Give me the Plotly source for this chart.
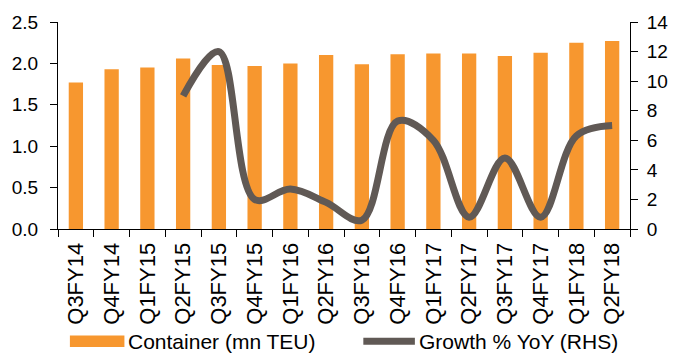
import plotly.graph_objects as go

quarters = ["Q3FY14", "Q4FY14", "Q1FY15", "Q2FY15", "Q3FY15", "Q4FY15", "Q1FY16", "Q2FY16",
            "Q3FY16", "Q4FY16", "Q1FY17", "Q2FY17", "Q3FY17", "Q4FY17", "Q1FY18", "Q2FY18"]
container_mn_teu = [1.77, 1.93, 1.95, 2.06, 1.98, 1.97, 2.00, 2.10,
                    1.99, 2.11, 2.12, 2.12, 2.09, 2.13, 2.25, 2.27]
growth_yoy = [None, None, None, 9.0, 12.0, 2.0, 2.7, 1.8,
              0.6, 7.3, 6.0, 0.8, 4.8, 0.8, 6.3, 7.0]

y_ticks = [0.0, 0.5, 1.0, 1.5, 2.0, 2.5]
y2_ticks = [0, 2, 4, 6, 8, 10, 12, 14]

BAR_COLOR = "#F7972F"
LINE_COLOR = "#605955"
FONT = "Liberation Sans, Arial, sans-serif"

fig = go.Figure()
fig.add_trace(go.Bar(
    x=quarters, y=container_mn_teu, name="Container (mn TEU)",
    marker=dict(color=BAR_COLOR, line=dict(width=0)), yaxis="y",
))
fig.add_trace(go.Scatter(
    x=quarters, y=growth_yoy, name="Growth % YoY (RHS)", mode="lines",
    line=dict(color=LINE_COLOR, width=7, shape="spline", smoothing=1.0),
    yaxis="y2", connectgaps=False,
))

axis_common = dict(
    showgrid=False, zeroline=False, showline=True, linecolor="black", linewidth=1,
    ticks="outside", ticklen=7, tickcolor="black", tickwidth=1,
    tickfont=dict(family=FONT, size=19, color="black"),
)

fig.update_layout(
    width=680, height=358,
    margin=dict(l=58, r=45, t=15, b=129),
    paper_bgcolor="white", plot_bgcolor="white",
    bargap=0.6, showlegend=False,
    font=dict(family=FONT, color="black"),
    xaxis=dict(
        type="category", tickson="boundaries", tickangle=-90,
        showgrid=False, zeroline=False, showline=True, linecolor="black", linewidth=1,
        ticks="outside", ticklen=7, tickcolor="black", ticklabelstandoff=4,
        tickfont=dict(family=FONT, size=22, color="black"),
    ),
    yaxis=dict(range=[0, 2.5], tickvals=y_ticks, tickformat=".1f",
               ticklabelstandoff=8, **axis_common),
    yaxis2=dict(range=[0, 14], tickvals=y2_ticks, overlaying="y", side="right",
                ticklabelstandoff=5, **axis_common),
)

# Legend drawn below the axis labels
def px_x(px):
    return (px - 58) / 577.0

def px_y(py):
    return (229 - py) / 214.0

fig.add_shape(type="rect", xref="paper", yref="paper",
              x0=px_x(70), x1=px_x(125), y0=px_y(351), y1=px_y(339),
              fillcolor=BAR_COLOR, line=dict(width=0))
fig.add_shape(type="line", xref="paper", yref="paper",
              x0=px_x(366), x1=px_x(418), y0=px_y(345), y1=px_y(345),
              line=dict(color=LINE_COLOR, width=7))
fig.add_annotation(text="Container (mn TEU)", xref="paper", yref="paper",
                   x=px_x(127), y=px_y(345), xanchor="left", yanchor="middle",
                   showarrow=False, font=dict(family=FONT, size=21, color="black"))
fig.add_annotation(text="Growth % YoY (RHS)", xref="paper", yref="paper",
                   x=px_x(420), y=px_y(345), xanchor="left", yanchor="middle",
                   showarrow=False, font=dict(family=FONT, size=21, color="black"))

fig.write_html("out.html")
